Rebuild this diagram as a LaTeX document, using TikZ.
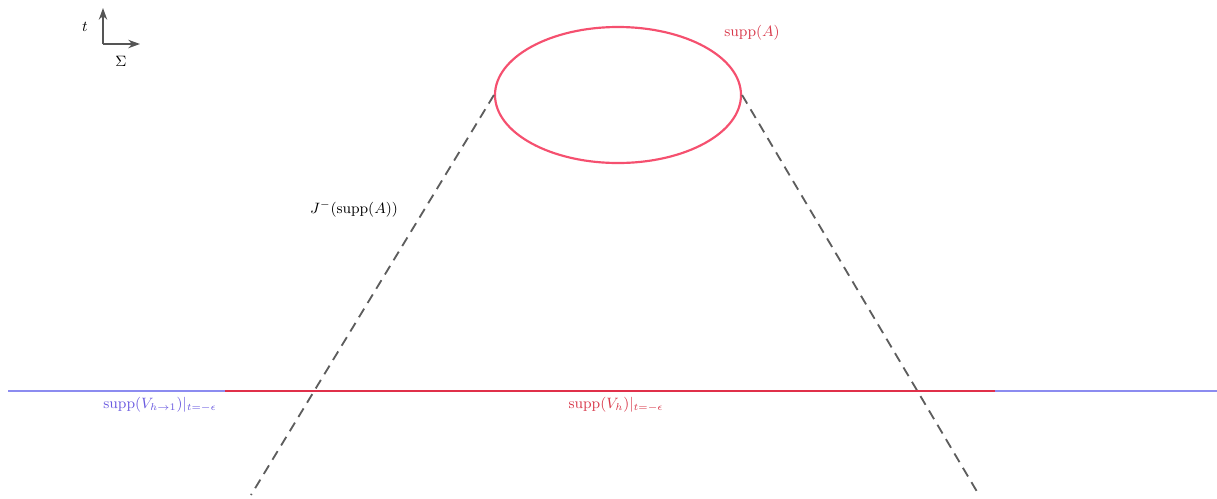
\documentclass[tikz,border=0pt]{standalone}
\usetikzlibrary{shapes.geometric,arrows.meta}
\definecolor{ellcol}{HTML}{F5506F}
\definecolor{redline}{HTML}{E0304A}
\definecolor{blueline}{HTML}{8C8CF0}
\definecolor{bluetext}{HTML}{6A5AE0}
\definecolor{redtext}{HTML}{D8384A}
\definecolor{axcol}{HTML}{555555}
\begin{document}
\begin{tikzpicture}[x=0.6pt,y=-0.6pt,
  axis/.style={draw=axcol,line width=1.2pt,-{Stealth[length=7pt,width=5pt]}},
  cone/.style={draw=axcol!95,dashed,dash pattern=on 6pt off 4pt,line width=1.1pt},
  lbl/.style={inner sep=0pt,font=\fontsize{9}{11}\selectfont}]
\useasboundingbox (0,0) rectangle (1217,498);
% axes
\coordinate (o) at (103,44);
\coordinate (tup) at (103,8);
\coordinate (sr) at (140,44);
\draw[axis] (o) -- (tup);
\draw[axis] (o) -- (sr);
\node[lbl] (tl) at (85,27) {$t$};
\node[lbl] (sl) at (121,61) {$\Sigma$};
% ellipse
\node[ellipse,draw=ellcol,line width=1.3pt,minimum width=147.6pt,minimum height=81.6pt,inner sep=0pt] (A) at (618,95) {};
\node[lbl,text=redtext] (al) at (752,33) {$\mathrm{supp}(A)$};
% cone
\coordinate (lb) at (251,495);
\coordinate (rb) at (979,495);
\draw[cone] (A.west) -- (lb);
\draw[cone] (A.east) -- (rb);
\node[lbl] (jl) at (354,209) {$J^{-}(\mathrm{supp}(A))$};
% horizontal lines
\coordinate (b0) at (8,391);
\coordinate (b1) at (1217,391);
\coordinate (r0) at (225,391);
\coordinate (r1) at (995,391);
\draw[blueline,line width=1pt] (b0) -- (b1);
\draw[redline,line width=1.3pt] (r0) -- (r1);
\node[lbl,text=bluetext] (vl) at (160,405) {$\mathrm{supp}(V_{h\to1})|_{t=-\epsilon}$};
\node[lbl,text=redtext] (vr) at (616,405) {$\mathrm{supp}(V_{h})|_{t=-\epsilon}$};
\end{tikzpicture}
\end{document}
